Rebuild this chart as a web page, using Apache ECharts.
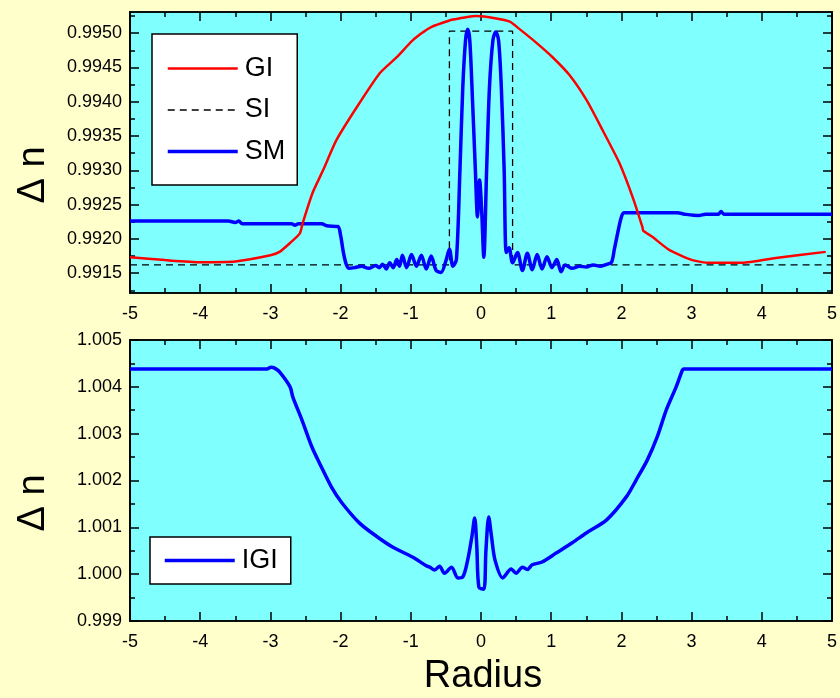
<!DOCTYPE html>
<html>
<head>
<meta charset="utf-8">
<title>Delta n vs Radius</title>
<script src="https://cdn.jsdelivr.net/npm/echarts@6/dist/echarts.min.js"></script>
<style>
  html, body { margin: 0; padding: 0; background: #FFFFCC; }
  #chart { width: 840px; height: 698px; }
</style>
</head>
<body>
<div id="chart"></div>
<script>
// 上图刻度
const topYTicks = [0.9915, 0.9920, 0.9925, 0.9930, 0.9935, 0.9940, 0.9945, 0.9950]
const topYMinor = [0.99125, 0.99175, 0.99225, 0.99275, 0.99325, 0.99375, 0.99425, 0.99475, 0.99525]
// 下图刻度
const bottomYTicks = [0.999, 1.000, 1.001, 1.002, 1.003, 1.004, 1.005]
const bottomYMinor = [0.9995, 1.0005, 1.0015, 1.0025, 1.0035, 1.0045]

// GI 曲线 [radius, Δn]
const giData = [
  [-5.0, 0.99173], [-4.5, 0.99169], [-4.0, 0.99166], [-3.5, 0.99167], [-3.0, 0.99176],
  [-2.87, 0.99181], [-2.72, 0.99194], [-2.58, 0.99208], [-2.54, 0.99223], [-2.40, 0.99267],
  [-2.25, 0.99300], [-2.06, 0.99344], [-1.77, 0.99392], [-1.44, 0.99442], [-1.20, 0.99465],
  [-0.97, 0.99490], [-0.73, 0.99508], [-0.40, 0.99520], [-0.06, 0.99525], [0.20, 0.99522],
  [0.41, 0.99517], [0.55, 0.99506], [0.79, 0.99486], [1.02, 0.99465], [1.26, 0.99439],
  [1.50, 0.99403], [1.73, 0.99359], [1.97, 0.99311], [2.16, 0.99261], [2.30, 0.99217],
  [2.31, 0.99212], [2.44, 0.99203], [2.68, 0.99184], [3.01, 0.99169], [3.25, 0.99165],
  [3.72, 0.99165], [4.20, 0.99172], [4.91, 0.99181]
]

// SI 阶跃
const siData = [
  [-5, 0.99162], [-0.45, 0.99162], [-0.45, 0.99503], [0.45, 0.99503], [0.45, 0.99162], [5, 0.99162]
]

// SM 曲线
const smData = [
  [-5.0, 0.99226], [-3.6, 0.99226], [-3.5, 0.99224], [-3.45, 0.99226], [-3.4, 0.99222],
  [-2.7, 0.99222], [-2.65, 0.99220], [-2.6, 0.99222], [-2.27, 0.99222], [-2.2, 0.99219],
  [-2.04, 0.99218], [-2.0, 0.99205], [-1.96, 0.99180], [-1.92, 0.99163], [-1.88, 0.99157],
  [-1.8, 0.99158], [-1.7, 0.99160], [-1.6, 0.99157], [-1.5, 0.99161], [-1.45, 0.99158],
  [-1.4, 0.99163], [-1.35, 0.99156], [-1.3, 0.99165], [-1.25, 0.99158], [-1.2, 0.99170],
  [-1.16, 0.99160], [-1.12, 0.99176], [-1.06, 0.99158], [-0.99, 0.99177], [-0.92, 0.99160],
  [-0.85, 0.99176], [-0.78, 0.99156], [-0.71, 0.99175], [-0.64, 0.99154], [-0.57, 0.99151],
  [-0.50, 0.99168], [-0.45, 0.99185], [-0.40, 0.99160], [-0.35, 0.99170], [-0.30, 0.99300],
  [-0.26, 0.99420], [-0.22, 0.99490], [-0.19, 0.99506], [-0.16, 0.99490], [-0.12, 0.99400],
  [-0.08, 0.99300], [-0.05, 0.99232], [-0.02, 0.99286], [0.01, 0.99240], [0.04, 0.99173],
  [0.08, 0.99300], [0.12, 0.99420], [0.17, 0.99490], [0.21, 0.99502], [0.25, 0.99490],
  [0.29, 0.99420], [0.33, 0.99300], [0.36, 0.99180], [0.40, 0.99187], [0.45, 0.99165],
  [0.52, 0.99180], [0.59, 0.99154], [0.66, 0.99179], [0.73, 0.99155], [0.80, 0.99177],
  [0.87, 0.99156], [0.94, 0.99174], [1.01, 0.99158], [1.08, 0.99170], [1.14, 0.99152],
  [1.2, 0.99162], [1.3, 0.99157], [1.4, 0.99160], [1.5, 0.99159], [1.6, 0.99162],
  [1.7, 0.99160], [1.8, 0.99163], [1.86, 0.99166], [1.9, 0.99185], [1.95, 0.99210],
  [2.0, 0.99232], [2.04, 0.99238], [2.8, 0.99238], [2.9, 0.99236], [3.1, 0.99234],
  [3.2, 0.99236], [3.38, 0.99236], [3.42, 0.99240], [3.46, 0.99236], [5.0, 0.99236]
]

// IGI 曲线
const igiData = [
  [-5, 1.00438], [-3.05, 1.00438], [-2.99, 1.00442], [-2.94, 1.00440], [-2.87, 1.00432],
  [-2.72, 1.00400], [-2.68, 1.00378], [-2.55, 1.00329], [-2.41, 1.00272], [-2.30, 1.00237],
  [-2.13, 1.00186], [-1.98, 1.00152], [-1.73, 1.00109], [-1.49, 1.00081], [-1.26, 1.00058],
  [-0.97, 1.00036], [-0.78, 1.00018], [-0.73, 1.00015], [-0.66, 1.00009], [-0.59, 1.00017],
  [-0.52, 1.00002], [-0.42, 1.00015], [-0.33, 0.99992], [-0.26, 0.99994], [-0.19, 1.00030],
  [-0.13, 1.00080], [-0.09, 1.00120], [-0.06, 1.00060], [-0.03, 0.99972], [0.04, 0.99968],
  [0.07, 1.00050], [0.11, 1.00122], [0.15, 1.00080], [0.20, 1.00030], [0.31, 0.99992],
  [0.43, 1.00011], [0.50, 1.00002], [0.59, 1.00015], [0.66, 1.00010], [0.73, 1.00020],
  [0.87, 1.00026], [1.07, 1.00045], [1.30, 1.00067], [1.50, 1.00088], [1.79, 1.00116],
  [2.07, 1.00165], [2.21, 1.00201], [2.37, 1.00244], [2.51, 1.00293], [2.64, 1.00351],
  [2.78, 1.00400], [2.87, 1.00436], [2.89, 1.00438], [5, 1.00438]
]

const FONT = "'Liberation Sans', Arial, sans-serif"

function xAxis(gridIndex, position, showLabel) {
  return {
    type: 'value', gridIndex, position, min: -5, max: 5, interval: 1,
    axisLine: { show: true, onZero: false, lineStyle: { color: '#000', width: 1.5 } },
    axisTick: { show: true, inside: true, length: 9, lineStyle: { color: '#000', width: 1.5 } },
    minorTick: { show: true, splitNumber: 2, length: 5, lineStyle: { color: '#000', width: 1.5 } },
    axisLabel: { show: showLabel, color: '#000', fontSize: 18, fontFamily: FONT, margin: 12 },
    splitLine: { show: false }
  }
}

function yAxis(gridIndex, position, min, max, ticks, len, showLabel, digits) {
  return {
    type: 'value', gridIndex, position, min, max,
    axisLine: { show: true, onZero: false, lineStyle: { color: '#000', width: 1.5 } },
    axisTick: { show: true, inside: true, length: len, customValues: ticks, lineStyle: { color: '#000', width: 1.5 } },
    axisLabel: {
      show: showLabel, customValues: ticks, color: '#000', fontSize: 18, fontFamily: FONT, margin: 8,
      formatter: v => v.toFixed(digits)
    },
    splitLine: { show: false }
  }
}

// 图例公共样式
const legendBase = {
  orient: 'vertical', itemWidth: 70, itemHeight: 27,
  backgroundColor: '#fff', borderColor: '#000', borderWidth: 1.5, borderRadius: 0,
  itemStyle: { opacity: 0 },
  lineStyle: { width: 'inherit' },
  textStyle: { color: '#000', fontSize: 27, fontFamily: FONT, lineHeight: 27, padding: [0, 0, 0, 2] }
}

const chart = echarts.init(document.getElementById('chart'))
const option = {
  backgroundColor: '#FFFFCC',
  animation: false,
  grid: [
    { left: 130, top: 12, width: 703, height: 281, show: true, backgroundColor: '#80FFFF', borderColor: '#000', borderWidth: 1.5 },
    { left: 130, top: 340, width: 703, height: 281, show: true, backgroundColor: '#80FFFF', borderColor: '#000', borderWidth: 1.5 }
  ],
  xAxis: [
    xAxis(0, 'bottom', true),
    xAxis(0, 'top', false),
    xAxis(1, 'bottom', true),
    xAxis(1, 'top', false)
  ],
  yAxis: [
    yAxis(0, 'left', 0.99121, 0.99531, topYTicks, 9, true, 4),
    yAxis(0, 'left', 0.99121, 0.99531, topYMinor, 5, false, 4),
    yAxis(0, 'right', 0.99121, 0.99531, topYTicks, 9, false, 4),
    yAxis(0, 'right', 0.99121, 0.99531, topYMinor, 5, false, 4),
    yAxis(1, 'left', 0.999, 1.005, bottomYTicks, 9, true, 3),
    yAxis(1, 'left', 0.999, 1.005, bottomYMinor, 5, false, 3),
    yAxis(1, 'right', 0.999, 1.005, bottomYTicks, 9, false, 3),
    yAxis(1, 'right', 0.999, 1.005, bottomYMinor, 5, false, 3)
  ],
  legend: [
    Object.assign({}, legendBase, {
      data: ['GI', 'SI', 'SM'], left: 152, top: 34,
      padding: [21, 12, 20, 14], itemGap: 14.5
    }),
    Object.assign({}, legendBase, {
      data: ['IGI'], left: 150, top: 537,
      padding: [10, 13, 10, 13]
    })
  ],
  series: [
    {
      name: 'GI', type: 'line', xAxisIndex: 0, yAxisIndex: 0, data: giData, symbol: 'none', z: 4,
      smooth: 0.2,
      itemStyle: { color: '#FF0000' }, lineStyle: { color: '#FF0000', width: 2.5 }
    },
    {
      name: 'SI', type: 'line', xAxisIndex: 0, yAxisIndex: 0, data: siData, symbol: 'none', z: 2,
      itemStyle: { color: '#000' }, lineStyle: { color: '#000', width: 1.3, type: [7, 5] }
    },
    {
      name: 'SM', type: 'line', xAxisIndex: 0, yAxisIndex: 0, data: smData, symbol: 'none', z: 3,
      smooth: 0.3,
      itemStyle: { color: '#0000FF' }, lineStyle: { color: '#0000FF', width: 3.5 }
    },
    {
      name: 'IGI', type: 'line', xAxisIndex: 2, yAxisIndex: 4, data: igiData, symbol: 'none', z: 3,
      smooth: 0.3,
      itemStyle: { color: '#0000FF' }, lineStyle: { color: '#0000FF', width: 3.5 }
    }
  ],
  graphic: [
    { type: 'text', x: 34, y: 175, rotation: Math.PI / 2,
      style: { text: 'Δ n', fontSize: 38, fontFamily: FONT, fill: '#000', align: 'center', verticalAlign: 'middle' } },
    { type: 'text', x: 34, y: 503, rotation: Math.PI / 2,
      style: { text: 'Δ n', fontSize: 38, fontFamily: FONT, fill: '#000', align: 'center', verticalAlign: 'middle' } },
    { type: 'text', x: 483, y: 677,
      style: { text: 'Radius', fontSize: 38, fontFamily: FONT, fill: '#000', align: 'center', verticalAlign: 'middle' } }
  ]
}
chart.setOption(option)
</script>
</body>
</html>
